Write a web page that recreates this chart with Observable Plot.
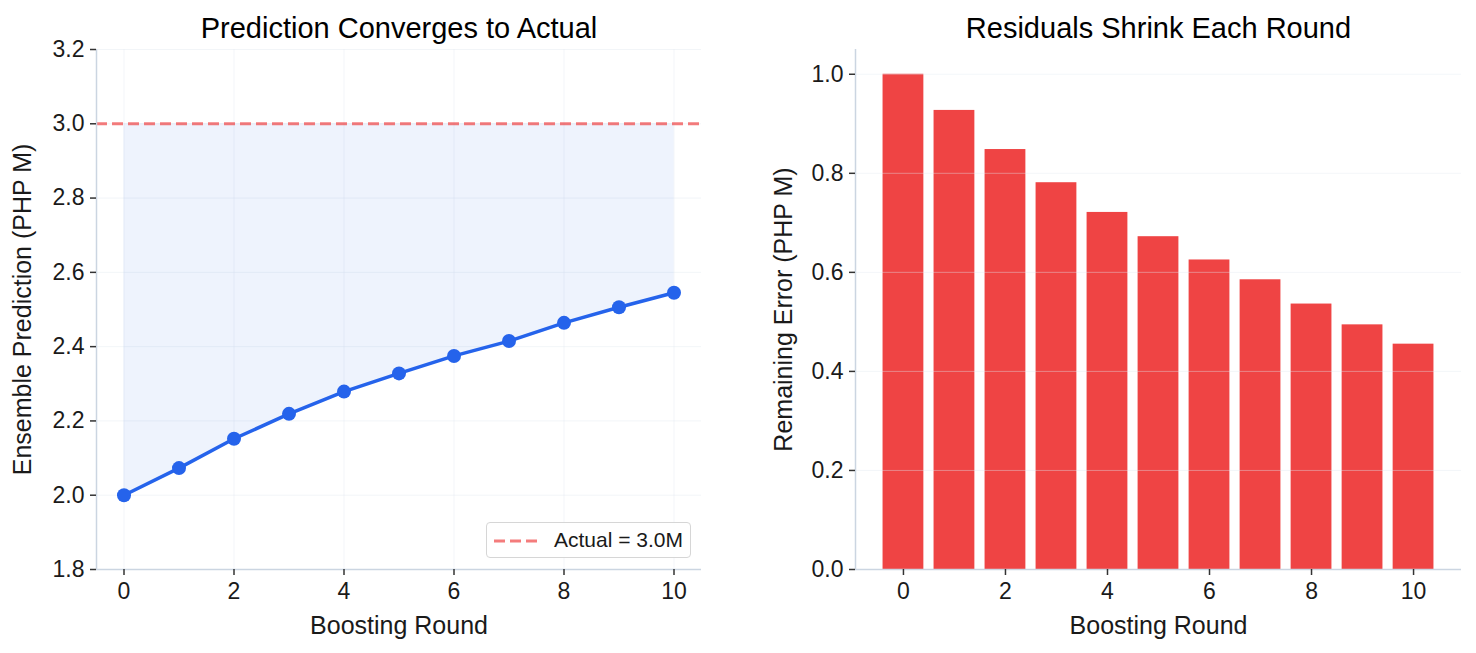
<!DOCTYPE html>
<html>
<head>
<meta charset="utf-8">
<script src="https://cdn.jsdelivr.net/npm/d3@7"></script>
<script src="https://cdn.jsdelivr.net/npm/@observablehq/plot@0.6"></script>
<style>
  html, body { margin: 0; padding: 0; background: #fff; }
  #root { position: relative; width: 1476px; height: 653px; background: #fff; font-family: "Liberation Sans", Arial, sans-serif; }
  #left { position: absolute; left: 0; top: 0; }
  #right { position: absolute; left: 730px; top: 0; }
  #legend { position: absolute; left: 486px; top: 522px; width: 203px; height: 34px; border: 1.5px solid #d6d6d6; border-radius: 4px; background: rgba(255,255,255,0.85); box-sizing: content-box; }
  #legend svg { position: absolute; left: 7px; top: 15px; }
  #legend span { position: absolute; left: 67px; top: 5px; font-size: 21px; color: #1a1a1a; white-space: nowrap; }
</style>
</head>
<body>
<div id="root">
  <div id="left"></div>
  <div id="right"></div>
  <div id="legend"><svg width="46" height="6"><line x1="0" y1="3" x2="46" y2="3" stroke="#ef4444" stroke-opacity="0.7" stroke-width="3" stroke-dasharray="11,5"/></svg><span>Actual = 3.0M</span></div>
</div>
<script>
// ---- data ----
const rounds = [0, 1, 2, 3, 4, 5, 6, 7, 8, 9, 10];
const predictions = [2.000, 2.073, 2.152, 2.219, 2.279, 2.328, 2.375, 2.415, 2.464, 2.506, 2.545];
const residuals = [1.000, 0.927, 0.848, 0.781, 0.721, 0.672, 0.625, 0.585, 0.536, 0.494, 0.455];
const actualValue = 3.0;
const xTicks = [0, 2, 4, 6, 8, 10];
const leftYTicks = [1.8, 2.0, 2.2, 2.4, 2.6, 2.8, 3.0, 3.2];
const rightYTicks = [0.0, 0.2, 0.4, 0.6, 0.8, 1.0];
const leftTitle = "Prediction Converges to Actual";
const rightTitle = "Residuals Shrink Each Round";
const xLabel = "Boosting Round";
const leftYLabel = "Ensemble Prediction (PHP M)";
const rightYLabel = "Remaining Error (PHP M)";

const predData = rounds.map((r, i) => ({round: r, pred: predictions[i], actual: actualValue}));
const residData = rounds.map((r, i) => ({round: r, resid: residuals[i]}));

const FONT = "Liberation Sans, Arial, sans-serif";
const INK = "#1a1a1a";
const SPINE = "#cbd5e1";
const GRID = "#e2e8f0";
const TICK_FS = 23;
const LABEL_FS = 25;
const TITLE_FS = 29;
const fmt = d => d.toFixed(1);

const common = {
  height: 653,
  marginTop: 49,
  marginBottom: 84,
  style: {fontFamily: FONT, fontSize: TICK_FS + "px", color: INK, background: "transparent", overflow: "visible"}
};

const left = Plot.plot({
  ...common,
  width: 730,
  marginLeft: 96,
  marginRight: 29,
  x: {domain: [-0.5, 10.5]},
  y: {domain: [1.8, 3.2]},
  marks: [
    Plot.gridX(xTicks, {stroke: GRID, strokeOpacity: 0.45, strokeWidth: 1}),
    Plot.gridY(leftYTicks, {stroke: GRID, strokeOpacity: 0.45, strokeWidth: 1}),
    Plot.areaY(predData, {x: "round", y1: "pred", y2: "actual", fill: "#2563eb", fillOpacity: 0.08, curve: "linear"}),
    Plot.ruleY([actualValue], {stroke: "#ef4444", strokeOpacity: 0.7, strokeWidth: 3, strokeDasharray: "11,5"}),
    Plot.line(predData, {x: "round", y: "pred", stroke: "#2563eb", strokeWidth: 3.5}),
    Plot.dot(predData, {x: "round", y: "pred", r: 7, fill: "#2563eb", stroke: "none"}),
    Plot.ruleX([-0.5], {stroke: SPINE, strokeWidth: 1.5}),
    Plot.ruleY([1.8], {stroke: SPINE, strokeWidth: 1.5}),
    Plot.axisX(xTicks, {tickSize: 6, tickPadding: 7, stroke: "#333", strokeWidth: 1.5, fill: INK, label: null, fontSize: TICK_FS}),
    Plot.axisY(leftYTicks, {tickSize: 6, tickPadding: 6, stroke: "#333", strokeWidth: 1.5, fill: INK, label: null, tickFormat: fmt, fontSize: TICK_FS}),
    Plot.text([leftTitle], {frameAnchor: "top", dy: -21, textAnchor: "middle", lineAnchor: "middle", fontSize: TITLE_FS, fill: "#000"}),
    Plot.text([xLabel], {frameAnchor: "bottom", dy: 56, textAnchor: "middle", lineAnchor: "middle", fontSize: LABEL_FS, fill: INK}),
    Plot.text([leftYLabel], {frameAnchor: "left", dx: -74, rotate: -90, textAnchor: "middle", lineAnchor: "middle", fontSize: LABEL_FS, fill: INK})
  ]
});
document.getElementById("left").appendChild(left);

const right = Plot.plot({
  ...common,
  width: 746,
  marginLeft: 125,
  marginRight: 15,
  x: {domain: [-0.94, 10.94]},
  y: {domain: [0, 1.05]},
  marks: [
    Plot.rectY(residData, {x1: d => d.round - 0.4, x2: d => d.round + 0.4, y: "resid", fill: "#ef4444"}),
    Plot.gridY(rightYTicks, {stroke: GRID, strokeOpacity: 0.4, strokeWidth: 1}),
    Plot.ruleX([-0.94], {stroke: SPINE, strokeWidth: 1.5}),
    Plot.ruleY([0], {stroke: SPINE, strokeWidth: 1.5}),
    Plot.axisX(xTicks, {tickSize: 6, tickPadding: 7, stroke: "#333", strokeWidth: 1.5, fill: INK, label: null, fontSize: TICK_FS}),
    Plot.axisY(rightYTicks, {tickSize: 6, tickPadding: 6, stroke: "#333", strokeWidth: 1.5, fill: INK, label: null, tickFormat: fmt, fontSize: TICK_FS}),
    Plot.text([rightTitle], {frameAnchor: "top", dy: -21, textAnchor: "middle", lineAnchor: "middle", fontSize: TITLE_FS, fill: "#000"}),
    Plot.text([xLabel], {frameAnchor: "bottom", dy: 56, textAnchor: "middle", lineAnchor: "middle", fontSize: LABEL_FS, fill: INK}),
    Plot.text([rightYLabel], {frameAnchor: "left", dx: -72, rotate: -90, textAnchor: "middle", lineAnchor: "middle", fontSize: LABEL_FS, fill: INK})
  ]
});
document.getElementById("right").appendChild(right);
</script>
</body>
</html>
